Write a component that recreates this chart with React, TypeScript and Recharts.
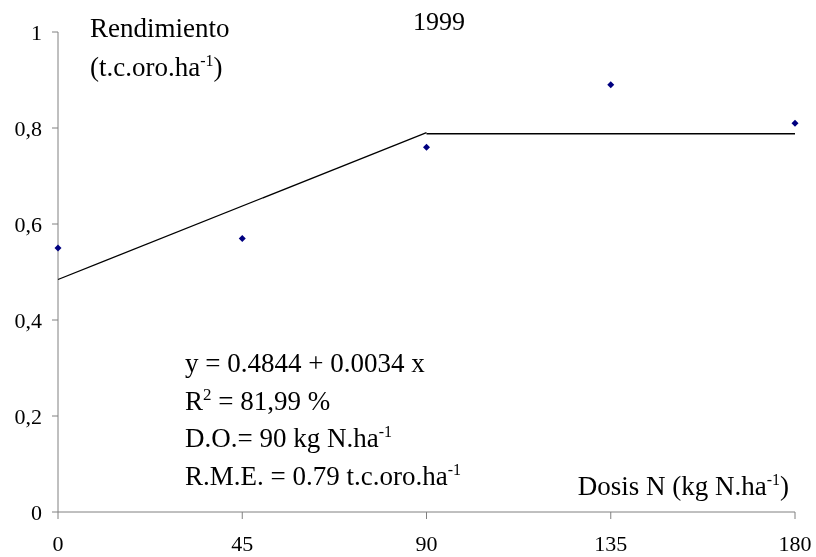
import React from "react";
import { ScatterChart, Scatter, XAxis, YAxis, ZAxis } from "recharts";

const doses = [0, 45, 90, 135, 180];
const yields = [0.55, 0.57, 0.76, 0.89, 0.81];
const xTicks = [0, 45, 90, 135, 180];
const yTicks = [0, 0.2, 0.4, 0.6, 0.8, 1];

// fitted linear-plateau model
const rampX = [0, 90];
const rampY = [0.4844, 0.7904];
const plateauX = [90, 180];
const plateauY = [0.788, 0.788];

const points = doses.map((x, i) => ({ x, y: yields[i] }));
const ramp = rampX.map((x, i) => ({ x, y: rampY[i] }));
const plateau = plateauX.map((x, i) => ({ x, y: plateauY[i] }));

const FONT = "'Liberation Serif', 'Times New Roman', serif";

const Diamond = (props: any) => {
  const { cx, cy } = props;
  const r = 3.5;
  return (
    <polygon
      points={`${cx},${cy - r} ${cx + r},${cy} ${cx},${cy + r} ${cx - r},${cy}`}
      fill="#000080"
    />
  );
};

const NoDot = () => <g />;

const fmtY = (v: number) => String(v).replace(".", ",");

export default function App() {
  const W = 808;
  const H = 549;
  return (
    <div
      style={{
        position: "fixed",
        left: 8,
        top: 8,
        width: W,
        height: H,
        fontFamily: FONT,
      }}
    >
      <ScatterChart
        width={W}
        height={H}
        margin={{ top: 24, right: 21, bottom: 7, left: 0 }}
      >
        <XAxis
          type="number"
          dataKey="x"
          domain={[0, 180]}
          ticks={xTicks}
          stroke="#808080"
          tickSize={7}
          tickMargin={16}
          height={38}
          tick={{ fill: "#000", fontSize: 22, fontFamily: FONT }}
        />
        <YAxis
          type="number"
          dataKey="y"
          domain={[0, 1]}
          ticks={yTicks}
          stroke="#808080"
          tickSize={6}
          tickMargin={10}
          width={50}
          tickFormatter={fmtY}
          tick={{ fill: "#000", fontSize: 22, fontFamily: FONT }}
        />
        <ZAxis range={[40, 40]} />
        <Scatter
          data={ramp}
          line={{ stroke: "#000", strokeWidth: 1.3 }}
          shape={NoDot}
          isAnimationActive={false}
        />
        <Scatter
          data={plateau}
          line={{ stroke: "#000", strokeWidth: 1.3 }}
          shape={NoDot}
          isAnimationActive={false}
        />
        <Scatter data={points} shape={Diamond} isAnimationActive={false} />
      </ScatterChart>
      <svg
        width={W}
        height={H}
        style={{ position: "absolute", left: 0, top: 0, pointerEvents: "none" }}
        fontFamily={FONT}
        fill="#000"
      >
        <text x={82} y={29} fontSize={27}>Rendimiento</text>
        <text x={82} y={68} fontSize={27}>
          (t.c.oro.ha<tspan dy={-10} fontSize={16}>-1</tspan>
          <tspan dy={10}>)</tspan>
        </text>
        <text x={431} y={22} fontSize={26} textAnchor="middle">1999</text>
        <text x={177} y={364} fontSize={27}>y = 0.4844 + 0.0034 x</text>
        <text x={177} y={401.5} fontSize={27}>
          R<tspan dy={-10} fontSize={17}>2</tspan>
          <tspan dy={10}> = 81,99 %</tspan>
        </text>
        <text x={177} y={439} fontSize={27}>
          D.O.= 90 kg N.ha<tspan dy={-10} fontSize={16}>-1</tspan>
        </text>
        <text x={177} y={476.5} fontSize={27}>
          R.M.E. = 0.79 t.c.oro.ha<tspan dy={-10} fontSize={16}>-1</tspan>
        </text>
        <text x={781} y={487} fontSize={27} textAnchor="end">
          Dosis N (kg N.ha<tspan dy={-10} fontSize={16}>-1</tspan>
          <tspan dy={10}>)</tspan>
        </text>
      </svg>
    </div>
  );
}
